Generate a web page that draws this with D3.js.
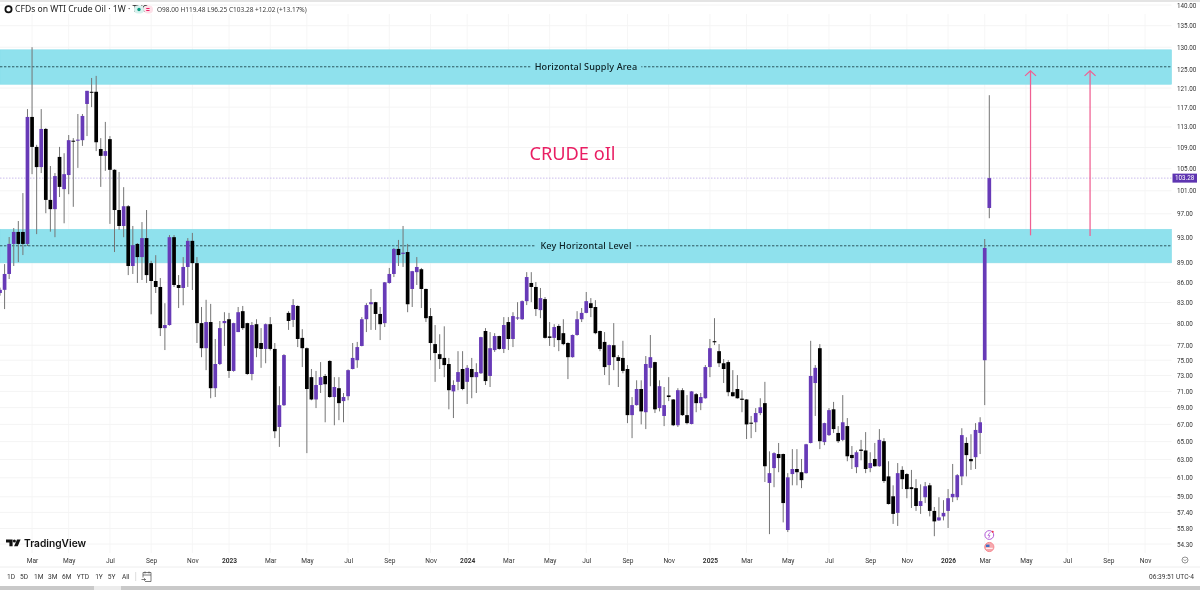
<!DOCTYPE html>
<html>
<head>
<meta charset="utf-8">
<script src="https://cdn.jsdelivr.net/npm/d3@7"></script>
<style>
  html, body { margin: 0; padding: 0; background: #fff; overflow: hidden; }
  svg { display: block; font-family: Roboto, sans-serif; filter: blur(0.3px); }
</style>
</head>
<body>
<svg id="chart" width="1200" height="590"></svg>
<script>
// weekly candles
const opens = [84.4,84.87,87.27,92,93.96,93.96,92,115,109.1,105.3,
  112.6,99.4,97.8,107.2,101.3,103.84,110.3,110.3,110.4,117.65,
  120.2,120.2,108.7,107.4,110.6,104.8,97.65,94.95,98.3,88.5,
  92,89.9,92.95,88.95,86.2,85.3,79.35,79.78,93.1,85.6,
  85.15,88.35,92.5,88.95,80.05,76.6,80.2,71.4,74.5,80.05,
  80.6,73.6,78.8,81.75,80.05,73.2,79.9,77.3,76.5,79.9,
  76.5,66.7,69.3,81.5,80.5,82.5,78,76.6,72.8,70,
  71.8,72.95,74.9,70.3,71.4,69.8,70.4,73.85,75,76.9,
  80.6,82.75,83.05,81.35,80.05,85.9,87.27,91.2,90.4,90.7,
  85,87.55,88,85,81.05,77.15,75.8,75.3,74.5,71,
  72.2,73.85,72.2,73.85,72.8,73.3,78.95,72.95,76.35,78.25,
  76.5,80.2,77.85,80.7,80.6,83.2,85.9,85.3,81.9,83.5,
  78.2,78,79.65,78.65,77.3,75.4,78.4,80.6,81.5,82.9,
  82.35,78.95,77.45,74.36,77,75.4,75.3,73.85,68.1,69.31,
  71.3,68.45,74,74.75,68.95,68,70.5,70,66.9,71.15,
  68.1,67.05,70.65,69.55,70.15,74.1,77.55,76.2,74.6,74.75,
  70.9,71.3,70.1,70,67.2,67.25,68.35,69.55,60.45,62.05,
  63.6,63.6,55.65,61.4,61.95,61.6,61.5,64.85,72.05,76.6,
  64.95,65.75,68.8,66,65.2,66.8,63.5,62.15,64.1,64,
  62.05,63.05,62.25,65.05,61.15,59.05,57.35,61.85,61.4,60,
  59.9,58.05,58.95,60.2,57.55,56.6,57,57.55,58.95,58.95,
  61.15,64.85,63.05,63.25,66,75,98];
const highs = [85.2,88.8,93.12,94.6,95.78,100.6,116.6,130,109.5,116.6,
  112.8,105.5,104.2,109.1,107.9,111.4,110.8,115.6,115.6,120.4,
  123.15,123.6,110.8,114,111.2,104.9,104.4,101.65,98.5,94.95,
  92.15,95.6,97.65,89.3,90.2,86.65,82.9,93.45,93.45,87.1,
  89.9,92.95,93.8,89.9,82.35,83.4,82.8,77.85,80.35,81.6,
  81.5,80.1,82.35,82.5,80.1,80.2,80.6,79.35,80,80.9,
  77.3,71.65,75.8,81.75,83.5,82.6,79.2,76.7,73.85,73.6,
  74.75,73.2,75,72.8,72.8,70.8,73.8,77.3,77.45,80.9,
  82.9,85,83.1,82.35,86.05,88.2,91.35,92.65,94.95,92,
  87.75,89.9,88.2,85.05,82.2,79.78,78.5,79.6,75.3,72.4,
  76.2,76.2,74.36,75.3,74.6,78.15,79.35,78.8,78.65,78.3,
  80.9,80.9,81.6,83.05,83.3,87.55,87.55,86.05,85.15,83.8,
  80.2,79.9,79.9,80.6,77.4,78.45,81.75,82.2,84.55,83.65,
  83.35,79,78.8,77.1,80.05,75.68,77.6,74.36,70.3,72.4,
  72.4,75.55,78.39,74.8,72.4,71.55,72.8,70.05,71.4,71.4,
  70.54,71.05,70.8,70.8,74.36,77.85,80.75,77.15,75.15,75,
  73.7,73.07,71.15,70.05,68,68.95,70.15,72.2,63.9,63.8,
  64.85,63.65,61.5,64.15,64.15,63.05,64.75,77.6,74.36,77.15,
  67.2,68.95,69.7,66.8,70.54,67.75,64.5,64,65.2,66.1,
  63.8,64.85,66.45,65.4,62.8,60.2,62.6,62.25,61.5,61.85,
  60.85,60.3,60.55,60.45,57.95,58.95,58.65,59.8,62.5,61.4,
  66.55,65.5,65.85,67.15,67.85,92.8,119.48];
const lows = [84,82.05,86.5,88.5,89.1,90.22,91.66,104,93.6,104.2,
  97.1,94,93.1,99.9,95.4,100.4,98.2,105.15,109.3,111.2,
  117,108.3,101.7,104.6,95.3,90.7,94.3,93.1,87.1,87.27,
  85.9,86.35,85.9,81.3,84.4,78.25,76.35,79.7,85.3,82.2,
  82.6,85.3,84.85,77.3,75.4,73.7,70.15,70.3,74.36,76.9,
  72.7,73.5,78.8,79.1,73.1,72.4,75.4,74,74.6,76.3,
  65.4,64.4,69.2,79.1,79.5,76.75,74.1,63.7,69.9,68.95,
  70.8,67.25,70.2,66.9,67.5,67.25,69.9,73.8,74,76.85,
  78.8,79.1,79.1,77.7,79.5,85.8,86.8,88.5,88.35,81.6,
  82.35,85.6,82.2,80.2,75,72.2,73.85,72.8,68.8,67.75,
  71.15,71.15,69.45,70.15,70.8,73.2,71.8,71.55,76.1,76.4,
  75.95,76.35,76.75,80.5,80.5,82.63,83.05,81.05,80.75,77.9,
  76.9,76.75,76.2,77,72.55,75.35,78.3,80.2,81.45,80.9,
  78.5,76.2,73.07,71.79,73.7,71.55,73.3,67.15,65.4,69.25,
  67,66.45,71.65,68.35,68.55,66.8,69.8,66.8,66.7,68,
  67,67,68.45,68.7,70.1,72.8,77.02,74.1,72.05,70.4,
  70.35,70.1,68.45,65.3,65.4,66.1,68.1,60.55,55.25,60,
  61.6,56.4,55.45,60.2,60.2,59.9,61.45,64.8,68,64.15,
  64.6,65.65,66,64.85,65.05,62.8,61.95,61.5,62.9,61.5,
  61.6,62.2,62.2,60.45,58.2,56.25,56.05,59.8,58.85,57.85,
  57.55,57.25,58.35,57,55.05,56.55,56.6,55.85,58.45,58.65,
  60.22,61.15,61.85,61.95,63.6,69.31,96.25];
const closes = [84.87,87.27,92,93.96,92,92,115,109.1,105.3,112.6,
  99.4,97.8,103.65,101.7,104,110.4,110.1,110.5,115.2,120.4,
  120,110,107.4,108.3,104.8,97.65,94.95,98.3,88.5,91.8,
  89.9,92.95,87.1,86.2,85.3,79.35,79.78,93.1,85.6,85.15,
  88.35,92.5,88.95,80.05,76.6,80.2,71.4,74.5,79.35,80.35,
  73.6,80.05,81.6,79.35,73.2,79.78,76.6,76.5,79.9,76.5,
  66.2,69.3,75.68,80.35,82.63,77.85,76.6,71.3,70,71.8,
  72.8,71.9,70.3,71.55,69.55,70.3,73.7,75.3,76.75,80.6,
  82.63,83.05,81.35,79.9,86,87.27,91.2,90.22,90.6,82.75,
  87.7,88.35,85,80.75,77.3,75.95,75.15,74.36,71.15,71.8,
  73.45,71.3,74,72.8,73.45,78.1,72.3,76.6,78.25,76.5,
  79.78,77.85,81.05,80.85,83.2,86.8,85.3,82.05,83.65,78,
  78,79.5,77.7,77.15,75.4,78.4,80.6,81.5,83.2,82.2,
  78.65,76.5,74.1,77.02,75.4,74.9,73.6,68.1,69.31,71.3,
  68.55,74.5,75.4,68.8,71.65,69.31,70.3,66.9,71.15,68.1,
  67.15,71,69.55,70.3,74.1,76.6,77.4,74.6,73.85,70.9,
  70.4,70.15,69.95,67,67.1,68.35,69.05,62.25,61.5,63.7,
  63.15,58.35,61.05,61.95,61.6,60.75,64.7,72.95,74,65.05,
  67.15,68.7,66.45,65.05,67.25,63.35,63.15,63.8,63.95,61.95,
  62.6,62.25,65.2,60.65,58.25,57.25,61.5,60.85,59.8,59.8,
  58.05,58.55,60.1,57.55,56.5,56.9,57.35,58.85,59.3,61.28,
  65.75,63.48,62.8,66.35,67.25,91.35,103.28];

const priceTicks = [140,135,130,125,121,117,113,109,105,101,97,93,89,86,83,80,77,75,73,71,69,67,65,63,61,59,57.4,55.8,54.3];
const weekTicks = [7,15,24,33,42,50,59,67,76,85,94,102,111,120,128,137,146,155,163,172,181,190,198,207,215,224,233,242,250];
const weekLabels = ['Mar','May','Jul','Sep','Nov','2023','Mar','May','Jul','Sep','Nov','2024','Mar','May','Jul','Sep','Nov','2025','Mar','May','Jul','Sep','Nov','2026','Mar','May','Jul','Sep','Nov'];
const rangeLabels = ['1D','5D','1M','3M','6M','YTD','1Y','5Y','All'];

// zones and drawn levels, as prices and week numbers
const zones = [[129.4,121.8,125.6,'Horizontal Supply Area'],[94.4,89,91.7,'Key Horizontal Level']];
const arrowWeeks = [225,238];
const arrowFrom = [93.4,93.3];
const arrowTo = 124.7;
const lastPrice = 103.28;

const svg = d3.select('#chart');
const x = d3.scaleLinear().domain([0,216]).range([0,989.3]);
const y = d3.scaleLog().domain([54.3,140]).range([544,5]);
const plotRight = 1171.5, plotBottom = 553;
const upColor = '#673ab7', downColor = '#000', axisColor = '#333';

// top strip and grid
svg.append('rect').attr('width',1200).attr('height',2).attr('fill','#e4e4e4');
svg.append('g').selectAll('line').data(weekTicks).join('line')
  .attr('x1',d => x(d)).attr('x2',d => x(d)).attr('y1',14).attr('y2',plotBottom)
  .attr('stroke','#f6f6f6');
svg.append('g').selectAll('line').data(priceTicks).join('line')
  .attr('x1',0).attr('x2',plotRight).attr('y1',d => y(d)).attr('y2',d => y(d))
  .attr('stroke','#f4f4f4');

// zones
const zone = svg.append('g').selectAll('g').data(zones).join('g');
zone.append('rect').attr('x',0).attr('width',plotRight)
  .attr('y',d => y(d[0])).attr('height',d => y(d[1]) - y(d[0]))
  .attr('fill','#8fe1ed').attr('stroke','#86dde9').attr('stroke-width',0.6);

// last price line
svg.append('line').attr('x1',0).attr('x2',plotRight).attr('y1',y(lastPrice)).attr('y2',y(lastPrice))
  .attr('stroke','#b5a0e4').attr('stroke-width',0.7).attr('stroke-dasharray','1.5 1.5');

// candles
const candles = d3.range(opens.length);
const candle = svg.append('g').selectAll('g').data(candles).join('g');
candle.append('line')
  .attr('x1',i => x(i)).attr('x2',i => x(i))
  .attr('y1',i => y(highs[i])).attr('y2',i => y(lows[i]))
  .attr('stroke','#757575').attr('stroke-width',1);
candle.append('rect')
  .attr('x',i => x(i) - 1.85).attr('width',3.7)
  .attr('y',i => y(Math.max(opens[i],closes[i])))
  .attr('height',i => Math.max(1,Math.abs(y(opens[i]) - y(closes[i]))))
  .attr('fill',i => closes[i] >= opens[i] ? upColor : downColor);

// dashed levels with their labels on top
zone.append('line').attr('x1',0).attr('x2',plotRight)
  .attr('y1',d => y(d[2])).attr('y2',d => y(d[2]))
  .attr('stroke','#14343b').attr('stroke-width',0.8).attr('stroke-dasharray','2.4 1.6');
zone.each(function (d) {
  const g = d3.select(this);
  const w = d[3].length * 4.75 + 6;
  g.append('rect').attr('x',586 - w / 2).attr('width',w)
    .attr('y',y(d[2]) - 3).attr('height',6).attr('fill','#8fe1ed');
  g.append('text').attr('x',586).attr('y',y(d[2]) + 3.2)
    .attr('text-anchor','middle').attr('font-size',9.1)
    .attr('font-family','"Noto Sans"').attr('letter-spacing',0.15)
    .attr('font-weight',500).attr('fill','#0c1f23').text(d[3]);
});

// arrows
const arrow = svg.append('g').selectAll('g').data(arrowWeeks).join('g')
  .attr('stroke','#ef5f92').attr('fill','none').attr('stroke-width',1.25);
arrow.append('line').attr('x1',d => x(d)).attr('x2',d => x(d))
  .attr('y1',(d,i) => y(arrowFrom[i])).attr('y2',y(arrowTo));
arrow.append('path')
  .attr('d',d => d3.line()([[x(d) - 5.5,y(arrowTo) + 5],[x(d),y(arrowTo)],[x(d) + 5.5,y(arrowTo) + 5]]));

// title text
svg.append('text').attr('x',572.5).attr('y',160).attr('text-anchor','middle')
  .attr('font-size',18.2).attr('font-family','"Noto Sans"').attr('fill','#e91e63').text('CRUDE oIl');

// price axis
const yAxis = svg.append('g').attr('transform',`translate(${plotRight},0)`)
  .call(d3.axisRight(y).tickValues(priceTicks).tickFormat(d3.format('.2f')).tickSize(0).tickPadding(5.5));
yAxis.select('.domain').remove();
yAxis.selectAll('text').attr('font-size',6.3).attr('font-family','Roboto').attr('fill',axisColor);

// last price label
svg.append('rect').attr('x',1172.5).attr('y',y(lastPrice) - 4.5).attr('width',24.5).attr('height',9)
  .attr('fill','#5e35b1');
svg.append('text').attr('x',1184.7).attr('y',y(lastPrice) + 2.3).attr('text-anchor','middle')
  .attr('font-size',6.3).attr('fill','#fff').text('103.28');

// time axis
const xAxis = svg.append('g').attr('transform',`translate(0,553)`)
  .call(d3.axisBottom(x).tickValues(weekTicks).tickFormat((d,i) => weekLabels[i]).tickSize(0).tickPadding(5));
xAxis.select('.domain').remove();
xAxis.selectAll('text').attr('font-size',6.6).attr('font-family','Roboto').attr('fill',axisColor)
  .attr('font-weight',(d,i) => /^\d/.test(weekLabels[i]) ? 700 : 400);

// header
svg.append('circle').attr('cx',8.5).attr('cy',9.3).attr('r',3.1)
  .attr('fill','#fff').attr('stroke','#111').attr('stroke-width',1.8);
svg.append('text').attr('x',15).attr('y',12).attr('font-size',8.6).attr('font-family','"Noto Sans"')
  .attr('fill','#222').text('CFDs on WTI Crude Oil · 1W · TVC');
svg.append('rect').attr('x',134).attr('y',5.5).attr('width',10).attr('height',8).attr('rx',4).attr('fill','#d8f2ee');
svg.append('rect').attr('x',144).attr('y',5.5).attr('width',9).attr('height',8).attr('rx',4).attr('fill','#fde0e8');
svg.append('circle').attr('cx',139).attr('cy',9.5).attr('r',1.7).attr('fill','#089981');
svg.append('text').attr('x',148).attr('y',12).attr('text-anchor','middle').attr('font-size',7.5)
  .attr('font-weight',700).attr('fill','#e91e63').text('=');
svg.append('text').attr('x',157).attr('y',12).attr('font-size',6.5)
  .attr('font-family','"Noto Sans"').attr('fill','#3b3b3b')
  .text('O98.00 H119.48 L96.25 C103.28 +12.02 (+13.17%)');

// logo
svg.append('path').attr('d','M6 539.5h6.6v6.8h-3.2v-3.8H6z').attr('fill','#111');
svg.append('circle').attr('cx',14.4).attr('cy',541).attr('r',1.5).attr('fill','#111');
svg.append('path').attr('d','M17 539.5h3.6l-2.9 6.8h-3.6z').attr('fill','#111');
svg.append('text').attr('x',24).attr('y',547).attr('font-size',10.2).attr('font-weight',600)
  .attr('font-family','Inter').attr('fill','#111').text('TradingView');

// event markers
const markerX = x(216);
svg.append('circle').attr('cx',markerX).attr('cy',535).attr('r',4.4)
  .attr('fill','#fff').attr('stroke','#b25bd6').attr('stroke-width',1);
svg.append('path').attr('d',`M${markerX + 1} 532.2l-2.4 3.2h2l-1.2 2.6`).attr('fill','none')
  .attr('stroke','#b25bd6').attr('stroke-width',0.8);
svg.append('circle').attr('cx',markerX + 3.4).attr('cy',531.8).attr('r',1).attr('fill','#f23645');
svg.append('circle').attr('cx',markerX).attr('cy',547).attr('r',4.6)
  .attr('fill','#f7a8ad').attr('stroke','#f58a92').attr('stroke-width',1);
svg.append('rect').attr('x',markerX - 3.4).attr('y',544.6).attr('width',3.6).attr('height',2.4).attr('fill','#3f6fc4');
svg.append('rect').attr('x',markerX - 3.4).attr('y',547.8).attr('width',6.8).attr('height',1).attr('fill','#fff');

// circle at the end of the time axis
svg.append('circle').attr('cx',1185).attr('cy',560).attr('r',3).attr('fill','none').attr('stroke','#666').attr('stroke-width',0.7);
svg.append('path').attr('d','M1183.6 559.4l1.4 1.4 1.4-1.4').attr('fill','none').attr('stroke','#666').attr('stroke-width',0.7);

// bottom toolbar
svg.append('line').attr('x1',0).attr('x2',1200).attr('y1',567).attr('y2',567).attr('stroke','#eee');
svg.append('g').selectAll('text').data(rangeLabels).join('text')
  .attr('x',(d,i) => [11,24,38.7,52.7,66.7,83,99,111.7,125.7][i]).attr('y',579.3)
  .attr('text-anchor','middle').attr('font-size',6.6).attr('fill','#333').text(d => d);
svg.append('line').attr('x1',135.7).attr('x2',135.7).attr('y1',572).attr('y2',581).attr('stroke','#ddd');
svg.append('path').attr('d','M143 572.5h8v9h-6M143 572.5v5M145 571.5v2M149 571.5v2M143 575h8M141.5 579.5h4l-1.5-1.2M145.5 579.5l-1.5 1.2')
  .attr('fill','none').attr('stroke','#444').attr('stroke-width',0.7);
svg.append('text').attr('x',1194).attr('y',579.3).attr('text-anchor','end')
  .attr('font-size',6.6).attr('fill','#333').text('06:39:51 UTC-4');

// scrollbar strip
svg.append('rect').attr('y',586).attr('width',1200).attr('height',4).attr('fill','#c9c9c9');
svg.append('rect').attr('x',94).attr('y',586).attr('width',27).attr('height',4).attr('fill','#ececec');
</script>
</body>
</html>
